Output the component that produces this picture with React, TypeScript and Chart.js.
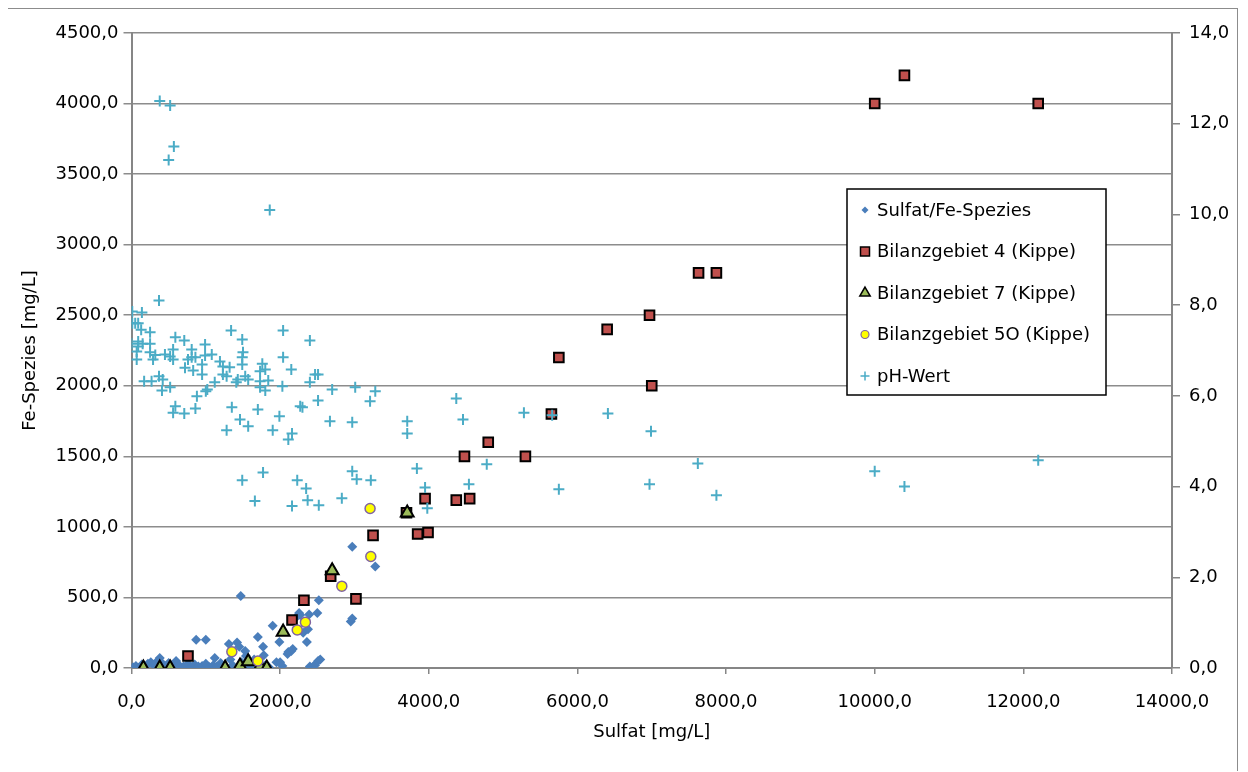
import { useEffect, useRef } from 'react';
import { Chart, registerables } from 'chart.js';

Chart.register(...registerables);

const FONT_FAMILY = '"DejaVu Sans", sans-serif';

// Sulfat [mg/L] vs Fe-Spezies [mg/L]
const sulfatFe: [number, number][] = [
  [20, 5], [60, 15], [100, 0], [140, 25], [180, 10], [220, 30], [260, 40], [300, 20], [340, 45], [380, 70],
  [420, 30], [460, 10], [500, 35], [560, 15], [600, 50], [640, 20], [700, 10], [760, 30], [800, 5], [850, 25],
  [870, 200], [900, 10], [950, 15], [1000, 200], [1000, 30], [1050, 5], [1100, 20], [1120, 70], [1150, 10],
  [1200, 35], [1250, 15], [1310, 170], [1330, 60], [1360, 20], [1420, 180], [1450, 150], [1470, 510], [1480, 40],
  [1530, 120], [1540, 85], [1560, 25], [1600, 10], [1650, 60], [1700, 220], [1700, 30], [1740, 10], [1770, 150],
  [1780, 90], [1800, 20], [1850, 5], [1900, 300], [1950, 40], [1990, 185], [2000, 40], [2030, 15], [2100, 100],
  [2110, 113], [2150, 120], [2170, 135], [2200, 350], [2255, 390], [2270, 375], [2310, 250], [2360, 185],
  [2375, 275], [2390, 380], [2400, 10], [2450, 15], [2470, 20], [2500, 390], [2510, 50], [2520, 480], [2540, 60],
  [2950, 330], [2970, 350], [2970, 860], [3280, 720],
];

const bilanz4: [number, number][] = [
  [760, 85], [2160, 340], [2320, 480], [2680, 650], [3020, 490], [3250, 940], [3700, 1100], [3850, 950],
  [3990, 960], [3950, 1200], [4370, 1190], [4550, 1200], [4480, 1500], [5300, 1500], [4800, 1600], [5650, 1800],
  [5750, 2200], [7000, 2000], [6400, 2400], [6970, 2500], [7630, 2800], [7870, 2800], [10000, 4000],
  [10400, 4200], [12200, 4000],
];

const bilanz7: [number, number][] = [
  [160, 0], [380, 0], [520, 0], [1260, 0], [1460, 15], [1570, 45], [1730, 10], [1820, 0], [2040, 255],
  [2700, 690], [3710, 1100],
];

const bilanz5O: [number, number][] = [
  [1350, 115], [1700, 50], [2230, 270], [2340, 325], [2830, 580], [3220, 790], [3210, 1130],
];

// Sulfat [mg/L] vs pH (right axis)
const phWert: [number, number][] = [
  [380, 12.5], [520, 12.4], [570, 11.5], [500, 11.2], [1860, 10.1],
  [370, 8.1], [10, 7.86], [140, 7.84], [10, 7.6], [50, 7.6], [90, 7.6], [130, 7.46], [250, 7.4], [0, 7.15],
  [90, 7.2], [90, 7.09], [150, 7.15], [250, 7.15], [70, 6.98], [70, 6.8], [250, 6.96], [290, 6.8], [320, 6.9],
  [450, 6.91], [520, 6.87], [560, 7.02], [560, 6.8], [590, 7.29], [710, 7.22], [810, 7.02], [760, 6.8],
  [810, 6.85], [720, 6.62], [860, 6.85], [830, 6.56], [950, 6.69], [990, 7.13], [990, 6.89], [950, 6.47],
  [1080, 6.91], [1190, 6.76], [1230, 6.65], [1230, 6.47], [1320, 6.63], [1280, 6.43], [1340, 7.44],
  [1490, 7.24], [1500, 6.96], [1490, 6.85], [1490, 6.69], [1530, 6.43], [1430, 6.36], [1570, 6.36],
  [1760, 6.71], [1730, 6.54], [1800, 6.58], [1730, 6.32], [1840, 6.34], [1730, 6.19], [1800, 6.12],
  [2040, 7.44], [2040, 6.85], [2150, 6.58], [2030, 6.21], [2400, 7.22], [2470, 6.47], [2510, 6.47],
  [2400, 6.3], [2700, 6.14], [3010, 6.19], [3280, 6.1], [3210, 5.88], [2510, 5.9], [2670, 5.44], [2970, 5.42],
  [2270, 5.77], [2300, 5.75], [1990, 5.55], [2160, 5.17], [2110, 5.04], [1900, 5.24], [1700, 5.7], [1570, 5.33],
  [1460, 5.48], [1280, 5.24], [1350, 5.75], [860, 5.72], [710, 5.61], [560, 5.63], [590, 5.77], [520, 6.19],
  [410, 6.12], [170, 6.32], [270, 6.32], [370, 6.43], [420, 6.36], [880, 5.99], [1000, 6.1], [1020, 6.14],
  [1120, 6.3], [1410, 6.3], [1770, 4.31], [2970, 4.34], [1490, 4.14], [1660, 3.68], [2230, 4.14], [2350, 3.96],
  [2370, 3.7], [2160, 3.57], [2520, 3.59], [2830, 3.74], [3030, 4.16], [3220, 4.14], [3840, 4.4], [3950, 3.98],
  [3980, 3.52], [4540, 4.05], [3710, 5.44], [3710, 5.17], [4460, 5.48], [4370, 5.94], [5280, 5.63],
  [5660, 5.57], [6410, 5.61], [6990, 5.22], [4780, 4.49], [5750, 3.94], [6970, 4.05], [7620, 4.51],
  [7870, 3.81], [10000, 4.34], [10400, 4.0], [12200, 4.58],
];

const xTitle = 'Sulfat [mg/L]';
const yTitle = 'Fe-Spezies [mg/L]';
const seriesLabels = [
  'Sulfat/Fe-Spezies',
  'Bilanzgebiet 4 (Kippe)',
  'Bilanzgebiet 7 (Kippe)',
  'Bilanzgebiet 5O (Kippe)',
  'pH-Wert',
];

const BLUE = '#4A7EBB';
const RED = '#C0504D';
const GREEN = '#9BBB59';
const YELLOW = '#FFFF00';
const PURPLE = '#8064A2';
const CYAN = '#4BACC6';
const AXIS = '#868686';

const fmt = (v: number | string) => Number(v).toFixed(1).replace('.', ',');
const pts = (a: [number, number][]) => a.map(([x, y]) => ({ x, y }));

type LegendStyle = { style: string; r: number; fill: string; stroke: string; bw: number };
const legendStyles: LegendStyle[] = [
  { style: 'diamond', r: 3.5, fill: BLUE, stroke: BLUE, bw: 0 },
  { style: 'square', r: 4.5, fill: RED, stroke: '#000', bw: 1.5 },
  { style: 'triangle', r: 6, fill: GREEN, stroke: '#000', bw: 1.5 },
  { style: 'circle', r: 4, fill: YELLOW, stroke: PURPLE, bw: 1.2 },
  { style: 'cross', r: 4.5, fill: CYAN, stroke: CYAN, bw: 1.5 },
];

function drawMarker(ctx: CanvasRenderingContext2D, s: LegendStyle, x: number, y: number) {
  const r = s.r;
  ctx.beginPath();
  switch (s.style) {
    case 'diamond':
      ctx.moveTo(x, y - r); ctx.lineTo(x + r, y); ctx.lineTo(x, y + r); ctx.lineTo(x - r, y); ctx.closePath();
      break;
    case 'square':
      ctx.rect(x - r, y - r, 2 * r, 2 * r);
      break;
    case 'triangle':
      ctx.moveTo(x, y - r); ctx.lineTo(x + r * 0.866, y + r * 0.5); ctx.lineTo(x - r * 0.866, y + r * 0.5); ctx.closePath();
      break;
    case 'circle':
      ctx.arc(x, y, r, 0, Math.PI * 2);
      break;
    case 'cross':
      ctx.moveTo(x - r, y); ctx.lineTo(x + r, y); ctx.moveTo(x, y - r); ctx.lineTo(x, y + r);
      break;
  }
  if (s.style !== 'cross') { ctx.fillStyle = s.fill; ctx.fill(); }
  if (s.bw > 0) { ctx.lineWidth = s.bw; ctx.strokeStyle = s.stroke; ctx.stroke(); }
}

const legendBoxPlugin = {
  id: 'legendBox',
  afterDraw(chart: any) {
    const ctx: CanvasRenderingContext2D = chart.ctx;
    ctx.save();
    const x0 = 839, y0 = 180, w = 259, h = 206;
    ctx.fillStyle = '#fff';
    ctx.fillRect(x0, y0, w, h);
    ctx.strokeStyle = '#000';
    ctx.lineWidth = 1.5;
    ctx.strokeRect(x0, y0, w, h);
    ctx.font = `18px ${FONT_FAMILY}`;
    ctx.textBaseline = 'middle';
    ctx.textAlign = 'left';
    seriesLabels.forEach((label, i) => {
      const cy = y0 + 21 + i * 41.5;
      drawMarker(ctx, legendStyles[i], 857, cy);
      ctx.fillStyle = '#000';
      ctx.fillText(label, 869, cy + 1);
    });
    ctx.restore();
  },
};

export default function App() {
  const ref = useRef<HTMLCanvasElement | null>(null);

  useEffect(() => {
    document.body.style.overflow = 'hidden';
    const canvas = ref.current;
    if (!canvas) return;
    const font = { family: FONT_FAMILY, size: 18 };
    const chart = new Chart(canvas, {
      type: 'scatter',
      data: {
        datasets: [
          {
            label: seriesLabels[0], data: pts(sulfatFe), yAxisID: 'y', order: 4,
            pointStyle: 'rectRot', pointRadius: 5, backgroundColor: BLUE, borderColor: BLUE, borderWidth: 0,
          },
          {
            label: seriesLabels[1], data: pts(bilanz4), yAxisID: 'y', order: 3,
            pointStyle: 'rect', pointRadius: 6.8, backgroundColor: RED, borderColor: '#000', borderWidth: 2,
          },
          {
            label: seriesLabels[2], data: pts(bilanz7), yAxisID: 'y', order: 2,
            pointStyle: 'triangle', pointRadius: 7.4, backgroundColor: GREEN, borderColor: '#000', borderWidth: 2,
          },
          {
            label: seriesLabels[3], data: pts(bilanz5O), yAxisID: 'y', order: 1,
            pointStyle: 'circle', pointRadius: 5, backgroundColor: YELLOW, borderColor: PURPLE, borderWidth: 1.5,
          },
          {
            label: seriesLabels[4], data: pts(phWert), yAxisID: 'y2', order: 0,
            pointStyle: 'cross', pointRadius: 5.5, backgroundColor: CYAN, borderColor: CYAN, borderWidth: 2,
          },
        ] as any,
      },
      options: {
        responsive: false,
        maintainAspectRatio: false,
        animation: false,
        layout: { padding: { left: 0, right: 0, top: 24, bottom: 0 } },
        plugins: { legend: { display: false }, tooltip: { enabled: false } },
        scales: {
          x: {
            type: 'linear', position: 'bottom', min: 0, max: 14000,
            ticks: { stepSize: 2000, callback: (v: any) => fmt(v), font, color: '#000', padding: 18, maxRotation: 0 },
            grid: { drawOnChartArea: false, drawTicks: true, tickLength: 6, color: AXIS, lineWidth: 1.5 },
            border: { display: true, color: AXIS, width: 2 },
            title: { display: true, text: xTitle, font, color: '#000', padding: { top: 0, bottom: 28 } },
            afterFit: (s: any) => { s.height = 103; },
          },
          y: {
            type: 'linear', position: 'left', min: 0, max: 4500,
            ticks: { stepSize: 500, callback: (v: any) => fmt(v), font, color: '#000', padding: 5 },
            grid: { color: '#8c8c8c', lineWidth: 1.5, tickLength: 8 },
            border: { display: true, color: AXIS, width: 2 },
            title: { display: true, text: yTitle, font, color: '#000', padding: { top: 12, bottom: 0 } },
            afterFit: (s: any) => { s.width = 123.5; },
          },
          y2: {
            type: 'linear', position: 'right', min: 0, max: 14,
            ticks: { stepSize: 2, callback: (v: any) => fmt(v), font, color: '#000', padding: 9 },
            grid: { drawOnChartArea: false, drawTicks: true, tickLength: 8, color: AXIS, lineWidth: 1.5 },
            border: { display: true, color: AXIS, width: 2 },
            afterFit: (s: any) => { s.width = 65; },
          },
        } as any,
      },
      plugins: [legendBoxPlugin],
    });
    return () => chart.destroy();
  }, []);

  return (
    <div
      style={{
        width: 1229,
        height: 762,
        marginLeft: -1,
        border: '1px solid #8c8c8c',
        borderBottom: 'none',
        background: '#fff',
        position: 'relative',
      }}
    >
      <canvas ref={ref} width={1229} height={762} style={{ display: 'block' }} />
    </div>
  );
}
